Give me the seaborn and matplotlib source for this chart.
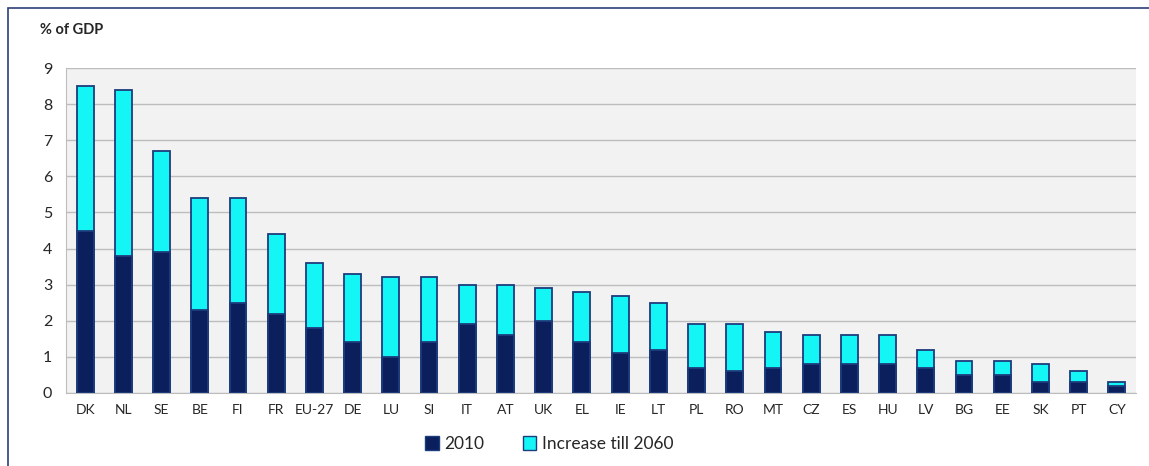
import numpy as np
import pandas as pd
import matplotlib
matplotlib.use('Agg')
import matplotlib.pyplot as plt
import seaborn as sns
from matplotlib.patches import Patch, Rectangle

# values (% of GDP)
countries = ['DK', 'NL', 'SE', 'BE', 'FI', 'FR', 'EU-27', 'DE', 'LU', 'SI',
             'IT', 'AT', 'UK', 'EL', 'IE', 'LT', 'PL', 'RO', 'MT', 'CZ',
             'ES', 'HU', 'LV', 'BG', 'EE', 'SK', 'PT', 'CY']
level_2010 = [4.5, 3.8, 3.9, 2.3, 2.5, 2.2, 1.8, 1.4, 1.0, 1.4,
              1.9, 1.6, 2.0, 1.4, 1.1, 1.2, 0.7, 0.6, 0.7, 0.8,
              0.8, 0.8, 0.7, 0.5, 0.5, 0.3, 0.3, 0.2]
increase_2060 = [4.0, 4.6, 2.8, 3.1, 2.9, 2.2, 1.8, 1.9, 2.2, 1.8,
                 1.1, 1.4, 0.9, 1.4, 1.6, 1.3, 1.2, 1.3, 1.0, 0.8,
                 0.8, 0.8, 0.5, 0.4, 0.4, 0.5, 0.3, 0.1]

df = pd.DataFrame({'country': countries, 'y2010': level_2010, 'inc': increase_2060})
df['total'] = df['y2010'] + df['inc']

navy = '#0a1f5c'
cyan = '#14f5f5'
edge = '#1d3c7c'

sns.set_style('white')
plt.rcParams['font.family'] = ['Lato', 'DejaVu Sans']

fig = plt.figure(figsize=(11.49, 4.66), dpi=100)
ax = fig.add_axes([66 / 1149, 1 - 393 / 466, 1070 / 1149, 325 / 466])
ax.set_facecolor('#f2f2f2')

# outer frame of the chart box (only left and top visible)
fig.patches.append(Rectangle((8 / 1149, -0.1), 1.2, 1 - 8 / 466 + 0.1,
                             transform=fig.transFigure, fill=False,
                             edgecolor='#2b3f7a', linewidth=1.2))

sns.barplot(data=df, x='country', y='total', color=cyan, saturation=1,
            width=0.44, edgecolor=edge, linewidth=1.3, ax=ax, zorder=3)
sns.barplot(data=df, x='country', y='y2010', color=navy, saturation=1,
            width=0.44, edgecolor=edge, linewidth=1.3, ax=ax, zorder=4)

ax.set_ylim(0, 9)
ax.set_xlim(-0.5, len(countries) - 0.5)
ax.set_yticks(range(0, 10))
ax.grid(axis='y', color='#bdbdbd', linewidth=1.0, zorder=0)
ax.set_axisbelow(True)
for s in ['top', 'right']:
    ax.spines[s].set_visible(False)
ax.spines['left'].set_color('#bdbdbd')
ax.spines['bottom'].set_color('#bdbdbd')

ax.set_xlabel('')
ax.set_ylabel('')
ax.tick_params(axis='y', labelsize=11.5, colors='#262626', length=4, color='#bdbdbd', pad=6)
ax.tick_params(axis='x', labelsize=10, colors='#262626', length=0, pad=8)

# minor ticks between categories
ax.set_xticks(np.arange(-0.5, len(countries)), minor=True)
ax.tick_params(axis='x', which='minor', length=4, color='#bdbdbd', direction='out')

fig.text(40 / 1149, 1 - 30 / 466, '% of GDP', fontsize=10.5, fontweight='bold',
         color='#262626', va='center', ha='left')

handles = [Patch(facecolor=navy, edgecolor=edge, label='2010'),
           Patch(facecolor=cyan, edgecolor=edge, label='Increase till 2060')]
fig.legend(handles=handles, loc='center', bbox_to_anchor=(0.478, 1 - 444 / 466),
           ncol=2, frameon=False, fontsize=12.5, handlelength=0.8, handleheight=0.8,
           handletextpad=0.3, columnspacing=2.2)

fig.savefig('out.png', dpi=100)
